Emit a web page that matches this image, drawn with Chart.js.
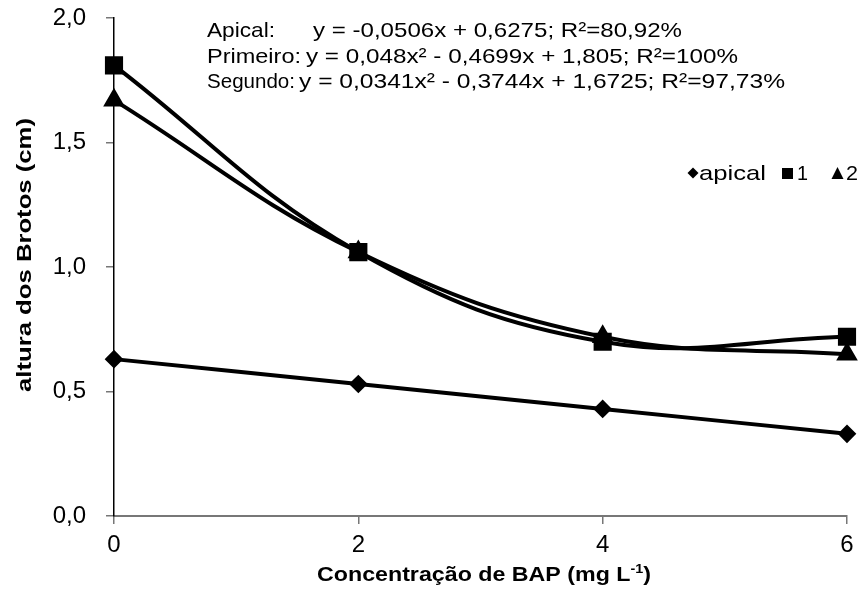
<!DOCTYPE html>
<html>
<head>
<meta charset="utf-8">
<script src="https://cdn.jsdelivr.net/npm/chart.js@4.4.1/dist/chart.umd.min.js"></script>
<style>
  html, body { margin: 0; padding: 0; background: #fff; }
  #wrap { width: 861px; height: 593px; }
</style>
</head>
<body>
<div id="wrap"><canvas id="chart" width="861" height="593"></canvas></div>
<script>
// BAP doses (mg/L) and shoot heights (cm)
const DOSES = [0, 2, 4, 6];
const APICAL = [0.63, 0.53, 0.43, 0.33];
const PRIMEIRO = [1.81, 1.06, 0.70, 0.72];
const SEGUNDO = [1.67, 1.06, 0.72, 0.65];

const X_TICKS = [0, 2, 4, 6];
const Y_TICKS = [0, 0.5, 1.0, 1.5, 2.0];

const EQ_NAMES = ['Apical:', 'Primeiro:', 'Segundo:'];
const EQ_TEXTS = [
    'y = -0,0506x + 0,6275; R\u00b2=80,92%',
    'y = 0,048x\u00b2 - 0,4699x + 1,805; R\u00b2=100%',
    'y = 0,0341x\u00b2 - 0,3744x + 1,6725; R\u00b2=97,73%'
];
const LEGEND_LABELS = ['apical', '1', '2'];
const X_TITLE = ['Concentração de BAP (mg L', '-1', ')'];
const Y_TITLE = 'altura dos Brotos (cm)';

const FONT = '"Liberation Sans", Arial, sans-serif';

function toPoints(values) {
    return DOSES.map((d, i) => ({ x: d, y: values[i] }));
}

// draw text stretched horizontally so it spans the given width
function fitText(ctx, text, x, y, width) {
    const w = ctx.measureText(text).width;
    ctx.save();
    ctx.translate(x, y);
    ctx.scale(width / w, 1);
    ctx.fillText(text, 0, 0);
    ctx.restore();
}

// Equations, legend and axis titles
const textPlugin = {
    id: 'texts',
    afterDraw(chart) {
        const ctx = chart.ctx;
        ctx.save();
        ctx.fillStyle = '#000';
        ctx.textBaseline = 'alphabetic';

        // regression equations
        ctx.font = '21px ' + FONT;
        const nameEnd = [275, 301, 295];
        const eqStart = [313, 306, 299];
        const eqEnd = [682, 738, 785];
        EQ_NAMES.forEach((name, i) => {
            const y = 37 + i * 25.5;
            fitText(ctx, name, 207, y, nameEnd[i] - 207);
            fitText(ctx, EQ_TEXTS[i], eqStart[i], y, eqEnd[i] - eqStart[i]);
        });

        // legend
        const ly = 173;
        ctx.beginPath();
        ctx.moveTo(693, ly - 5.5);
        ctx.lineTo(698.5, ly);
        ctx.lineTo(693, ly + 5.5);
        ctx.lineTo(687.5, ly);
        ctx.closePath();
        ctx.fill();
        ctx.fillRect(782, ly - 5, 11, 11);
        ctx.beginPath();
        ctx.moveTo(837.5, ly - 6);
        ctx.lineTo(843.5, ly + 6);
        ctx.lineTo(831.5, ly + 6);
        ctx.closePath();
        ctx.fill();
        ctx.font = '21px ' + FONT;
        fitText(ctx, LEGEND_LABELS[0], 699, 180, 67);
        fitText(ctx, LEGEND_LABELS[1], 797, 180, 11);
        fitText(ctx, LEGEND_LABELS[2], 846, 180, 12);

        // x axis title with superscript
        const mainFont = 'bold 21px ' + FONT;
        const supFont = 'bold 13px ' + FONT;
        ctx.font = mainFont;
        const w1 = ctx.measureText(X_TITLE[0]).width;
        const w3 = ctx.measureText(X_TITLE[2]).width;
        ctx.font = supFont;
        const w2 = ctx.measureText(X_TITLE[1]).width;
        const sx = (651 - 317) / (w1 + w2 + w3);
        ctx.save();
        ctx.translate(317, 581);
        ctx.scale(sx, 1);
        ctx.font = mainFont;
        ctx.fillText(X_TITLE[0], 0, 0);
        ctx.font = supFont;
        ctx.fillText(X_TITLE[1], w1, -8);
        ctx.font = mainFont;
        ctx.fillText(X_TITLE[2], w1 + w2, 0);
        ctx.restore();

        // y axis title, rotated
        ctx.font = 'bold 20px ' + FONT;
        const wy = ctx.measureText(Y_TITLE).width;
        ctx.save();
        ctx.translate(31, 392);
        ctx.rotate(-Math.PI / 2);
        ctx.scale((392 - 118) / wy, 1);
        ctx.fillText(Y_TITLE, 0, 0);
        ctx.restore();

        ctx.restore();
    }
};

const lineStyle = {
    borderColor: '#000',
    backgroundColor: '#000',
    pointBackgroundColor: '#000',
    pointBorderColor: '#000',
    borderWidth: 4,
    tension: 0.4,
    clip: false
};

new Chart(document.getElementById('chart'), {
    type: 'scatter',
    data: {
        datasets: [
            Object.assign({ label: 'apical', data: toPoints(APICAL), showLine: true,
                pointStyle: 'rectRot', pointRadius: 6.5 }, lineStyle),
            Object.assign({ label: '1', data: toPoints(PRIMEIRO), showLine: true,
                pointStyle: 'rect', pointRadius: 10 }, lineStyle),
            Object.assign({ label: '2', data: toPoints(SEGUNDO), showLine: true,
                pointStyle: 'triangle', pointRadius: 8.5 }, lineStyle)
        ]
    },
    options: {
        responsive: false,
        animation: false,
        layout: { padding: { top: 18, right: 14, left: 0, bottom: 0 } },
        plugins: {
            legend: { display: false },
            tooltip: { enabled: false }
        },
        scales: {
            x: {
                type: 'linear',
                min: 0,
                max: 6,
                afterBuildTicks: (scale) => { scale.ticks = X_TICKS.map(v => ({ value: v })); },
                afterFit: (scale) => {
                    scale.height = 77;
                    scale.paddingLeft = 0;
                    scale.paddingRight = 0;
                },
                ticks: {
                    color: '#000',
                    padding: 7,
                    font: { family: FONT, size: 24 }
                },
                grid: { drawOnChartArea: false, drawTicks: true, tickLength: 8, color: '#777', lineWidth: 1.5 },
                border: { color: '#777', width: 2 }
            },
            y: {
                min: 0,
                max: 2,
                afterBuildTicks: (scale) => { scale.ticks = Y_TICKS.map(v => ({ value: v })); },
                afterFit: (scale) => {
                    scale.width = 114;
                    scale.paddingTop = 0;
                    scale.paddingBottom = 0;
                },
                ticks: {
                    color: '#000',
                    padding: 20,
                    font: { family: FONT, size: 24 },
                    callback: (v) => v.toFixed(1).replace('.', ',')
                },
                grid: { drawOnChartArea: false, drawTicks: true, tickLength: 8, color: '#777', lineWidth: 1.5 },
                border: { color: '#000', width: 1.5 }
            }
        }
    },
    plugins: [textPlugin]
});
</script>
</body>
</html>
